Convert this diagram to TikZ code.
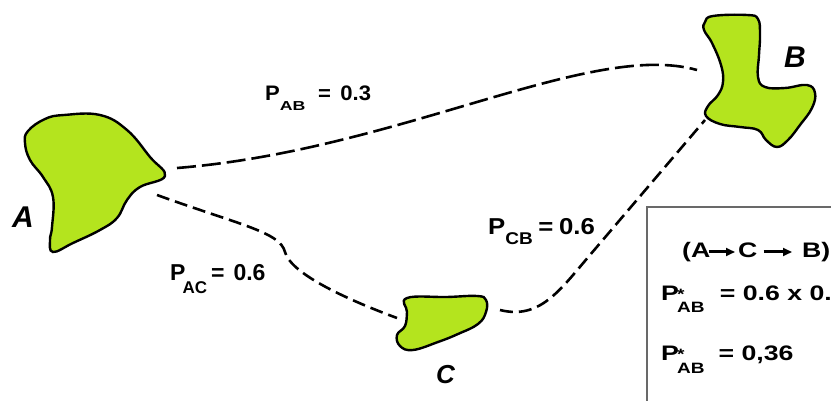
\documentclass[tikz,border=0pt]{standalone}
\usepackage{graphicx}
\usepackage{fontspec}
\setmainfont{Liberation Sans}
\usetikzlibrary{arrows.meta}
\definecolor{blobgreen}{RGB}{180,228,30}
\definecolor{boxgray}{RGB}{105,105,105}
% \sbx{lower}{size}{stretch}{text}
\newcommand\sbx[4]{\raisebox{-#1}{\scalebox{#3}[1]{\fontsize{#2}{#2}\selectfont #4}}}
\newcommand\pstar{P\hspace{-1.5pt}\rlap{\raisebox{1pt}{\fontsize{15}{15}\selectfont *}}\sbx{13pt}{15}{1}{AB}}
\begin{document}
\begin{tikzpicture}[x=1pt,y=-1pt,
  blob/.style={fill=blobgreen, draw=black, line width=2.4pt},
  link/.style={draw=black, line width=2.6pt, dash pattern=on 13pt off 6pt},
  longlink/.style={link, dash pattern=on 19pt off 6pt},
  lab/.style={font=\bfseries, inner sep=0pt, anchor=base west},
  letter/.style={font=\fontsize{30}{32}\selectfont\bfseries\itshape, inner sep=0pt, anchor=base west},
  legarrow/.style={line width=3pt, -{Triangle[length=9pt,width=8pt]}},
  ]
\useasboundingbox (0,0) rectangle (831,401);
\clip (0,0) rectangle (831,401);

% blobs
\draw[blob] plot[smooth cycle, tension=0.7] coordinates {
  (28,131) (45,119) (64,115) (100,115) (127,130) (150,157) (165,176) (140,187)
  (127,200) (117,218) (100,230) (73,243) (53,252) (50,240) (52,227) (53,197)
  (43,177) (30,160) (25,143)};
\draw[blob] plot[smooth cycle, tension=0.7] coordinates {
  (705,22) (713,16) (747,15) (758,19) (760,35) (759,55) (758,77) (765,87)
  (785,88) (807,85) (815,93) (812,108) (800,125) (788,140) (777,147) (766,140)
  (758,130) (740,127) (720,124) (706,116) (708,106) (718,95) (723,82) (721,65)
  (712,43) (704,30)};
\draw[blob] plot[smooth cycle, tension=0.7] coordinates {
  (407,298) (447,297) (477,296) (486,300) (486,312) (478,324) (458,334)
  (438,342) (413,350) (400,346) (397,335) (405,326) (407,312)};

% blob letters
\node[letter] (la) at (12,228) {A};
\node[letter] (lb) at (784,68) {B};
\node[letter, font=\fontsize{26}{28}\selectfont\bfseries\itshape] (lc) at (436,383) {C};

% connector end points
\coordinate (aE) at (177,168);
\coordinate (aS) at (157,195);
\coordinate (bW) at (697,70);
\coordinate (bS) at (705,120);
\coordinate (cW) at (397,318);
\coordinate (cE) at (500,310);

\draw[longlink] (aE) .. controls (400,150) and (590,40) .. (bW);
\draw[link] (aS) .. controls (240,225) and (280,232) .. (285,252)
  .. controls (290,272) and (340,297) .. (cW);
\draw[link] (cE) .. controls (540,320) and (560,290) .. (590,255) -- (bS);

% edge labels
\node[lab] (pab) at (265,101) {\scalebox{1.05}[1]{\fontsize{21}{21}\selectfont
  P\sbx{10pt}{13}{1.3}{AB}\hspace{12pt}=\hspace{9pt}0.3}};
\node[lab] (pac) at (170,280) {\fontsize{23}{23}\selectfont
  P\hspace{-3pt}\sbx{13pt}{17}{1}{AC}\hspace{4pt}=\hspace{9pt}0.6};
\node[lab] (pcb) at (488,235) {\scalebox{1.12}[1]{\fontsize{23}{23}\selectfont
  P\sbx{10pt}{17}{1}{CB}\hspace{5pt}=\hspace{5pt}0.6}};

% legend
\draw[boxgray, line width=1.8pt] (647,207) rectangle (850,420);
\node[lab] (ga) at (682,258) {\scalebox{1.27}[1]{\fontsize{21}{21}\selectfont (A}};
\node[lab] (gc) at (738,258) {\scalebox{1.27}[1]{\fontsize{21}{21}\selectfont C}};
\node[lab] (gb) at (802,258) {\scalebox{1.27}[1]{\fontsize{21}{21}\selectfont B)}};
\draw[legarrow] ([shift={(-2pt,6pt)}]ga.base east) -- ([shift={(-3pt,6pt)}]gc.base west);
\draw[legarrow] ([shift={(6pt,6pt)}]gc.base east) -- ([shift={(-10pt,6pt)}]gb.base west);
\node[lab] (g1) at (661,300) {\scalebox{1.27}[1]{\fontsize{21}{21}\selectfont
  \pstar\hspace{12pt}= 0.6 x 0.6}};
\node[lab] (g2) at (661,360) {\scalebox{1.27}[1]{\fontsize{21}{21}\selectfont
  \pstar\hspace{11pt}= 0,36}};
\end{tikzpicture}
\end{document}
